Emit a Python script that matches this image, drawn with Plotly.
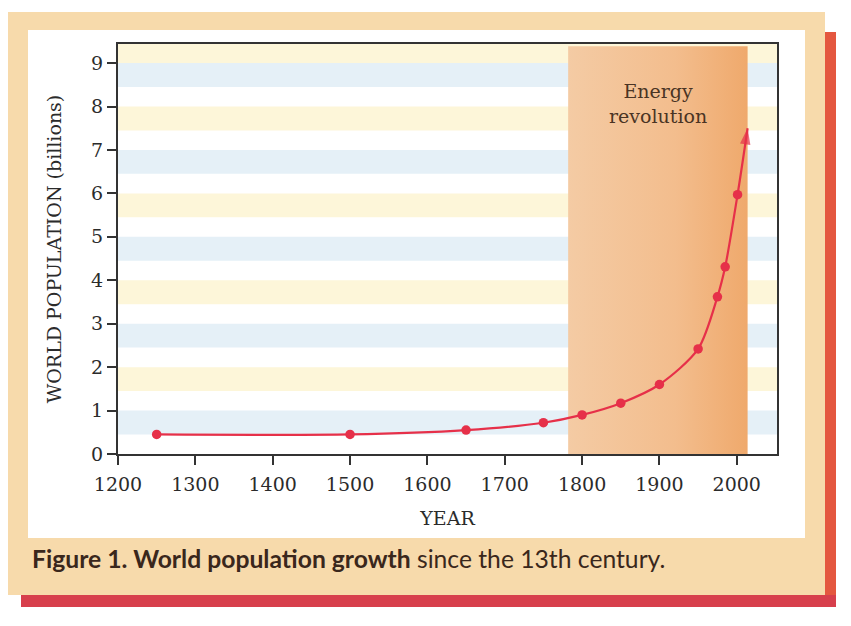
import plotly.graph_objects as go

# ---- data ----
years = [1250, 1500, 1650, 1750, 1800, 1850, 1900, 1950, 1975, 1985, 2001, 2014]
population = [0.45, 0.45, 0.55, 0.72, 0.90, 1.17, 1.60, 2.42, 3.62, 4.31, 5.97, 7.50]
x_ticks = [1200, 1300, 1400, 1500, 1600, 1700, 1800, 1900, 2000]
y_ticks = [0, 1, 2, 3, 4, 5, 6, 7, 8, 9]
energy_start, energy_end = 1782, 2014
energy_label = "Energy<br>revolution"
x_title = "YEAR"
y_title = "WORLD POPULATION (billions)"
caption_bold = "Figure 1. World population growth"
caption_rest = " since the 13th century."

# ---- layout geometry ----
W, H = 851, 626
L, R, T, B = 118, 777, 44, 454
XR = [1200, 2052]
YR = [0, 9.44]

def px(xp):
    return (xp - L) / (R - L)

def py(yp):
    return (B - yp) / (B - T)

RED = "#e63049"
serif = "DejaVu Serif"

fig = go.Figure()

# energy revolution shaded block (horizontal gradient)
ytop = YR[1] - 0.05
fig.add_trace(go.Scatter(
    x=[energy_start, energy_end, energy_end, energy_start, energy_start],
    y=[0, 0, ytop, ytop, 0],
    mode="lines", fill="toself", line=dict(width=0),
    fillgradient=dict(type="horizontal",
                      colorscale=[[0, "#f4cba4"], [0.6, "#f3bd8d"], [1, "#efa96c"]]),
    hoverinfo="skip", showlegend=False,
))

# population curve
fig.add_trace(go.Scatter(
    x=years, y=population, mode="lines",
    line=dict(color=RED, width=2.2, shape="spline", smoothing=0.8),
    showlegend=False, hoverinfo="skip",
))
# data points (all but the arrow tip)
fig.add_trace(go.Scatter(
    x=years[:-1], y=population[:-1], mode="markers",
    marker=dict(color=RED, size=9.5, line=dict(width=0)),
    showlegend=False, hoverinfo="x+y",
))
# arrow head at the end of the curve
fig.add_trace(go.Scatter(
    x=years[-2:], y=population[-2:], mode="markers",
    marker=dict(color=RED, size=[0, 17], symbol=["circle", "arrow"],
                angleref="previous", line=dict(width=0)),
    cliponaxis=False, showlegend=False, hoverinfo="skip",
))

shapes = []
# red shadow
shapes.append(dict(type="rect", xref="paper", yref="paper", layer="below",
                   x0=px(825), x1=px(836), y0=py(607), y1=py(32),
                   fillcolor="#e4573f", line=dict(width=0)))
shapes.append(dict(type="rect", xref="paper", yref="paper", layer="below",
                   x0=px(21), x1=px(836), y0=py(607), y1=py(595),
                   fillcolor="#d73f4c", line=dict(width=0)))
# peach panel
shapes.append(dict(type="rect", xref="paper", yref="paper", layer="below",
                   x0=px(8), x1=px(825), y0=py(595), y1=py(12),
                   fillcolor="#f7daab", line=dict(width=0)))
# white panel
shapes.append(dict(type="rect", xref="paper", yref="paper", layer="below",
                   x0=px(28), x1=px(805), y0=py(538), y1=py(30),
                   fillcolor="#ffffff", line=dict(width=0)))
# pale stripes below every tick
for k in y_ticks[1:]:
    col = "#e5f0f7" if k % 2 == 1 else "#fdf6d9"
    shapes.append(dict(type="rect", xref="x domain", yref="y", layer="below",
                       x0=0, x1=1, y0=k - 0.55, y1=k,
                       fillcolor=col, line=dict(width=0)))
shapes.append(dict(type="rect", xref="x domain", yref="y", layer="below",
                   x0=0, x1=1, y0=y_ticks[-1], y1=YR[1],
                   fillcolor="#fdf6d9", line=dict(width=0)))

annotations = []
mid = (energy_start + energy_end) / 2
annotations.append(dict(x=mid, y=8.06, xref="x", yref="y", text=energy_label,
                        showarrow=False, yanchor="middle",
                        font=dict(family=serif, size=19, color="#4a3424")))
annotations.append(dict(x=px(30), y=py(558), xref="paper", yref="paper",
                        xanchor="left", yanchor="middle", showarrow=False,
                        text=f"<b>{caption_bold}</b>{caption_rest}",
                        font=dict(family="Lato", size=24.7, color="#3a271c")))

axis_common = dict(showline=True, linecolor="#333333", linewidth=2, mirror=True,
                   ticks="outside", ticklen=9, tickwidth=2, tickcolor="#333333",
                   showgrid=False, zeroline=False,
                   tickfont=dict(family=serif, size=19, color="#2b2b2b"))

fig.update_layout(
    width=W, height=H,
    margin=dict(l=L, r=W - R, t=T, b=H - B, autoexpand=False),
    paper_bgcolor="white", plot_bgcolor="rgba(0,0,0,0)",
    xaxis=dict(range=XR, tickvals=x_ticks, ticklabelstandoff=3, **axis_common,
               title=dict(text=x_title, standoff=18,
                          font=dict(family=serif, size=19, color="#2b2b2b"))),
    yaxis=dict(range=YR, tickvals=y_ticks, **axis_common,
               title=dict(text=y_title, standoff=24,
                          font=dict(family=serif, size=19, color="#2b2b2b"))),
    shapes=shapes, annotations=annotations, showlegend=False,
)

fig.write_html("out.html", config={"displayModeBar": False},
               post_script="document.body.style.margin='0';document.body.style.overflow='hidden';")
